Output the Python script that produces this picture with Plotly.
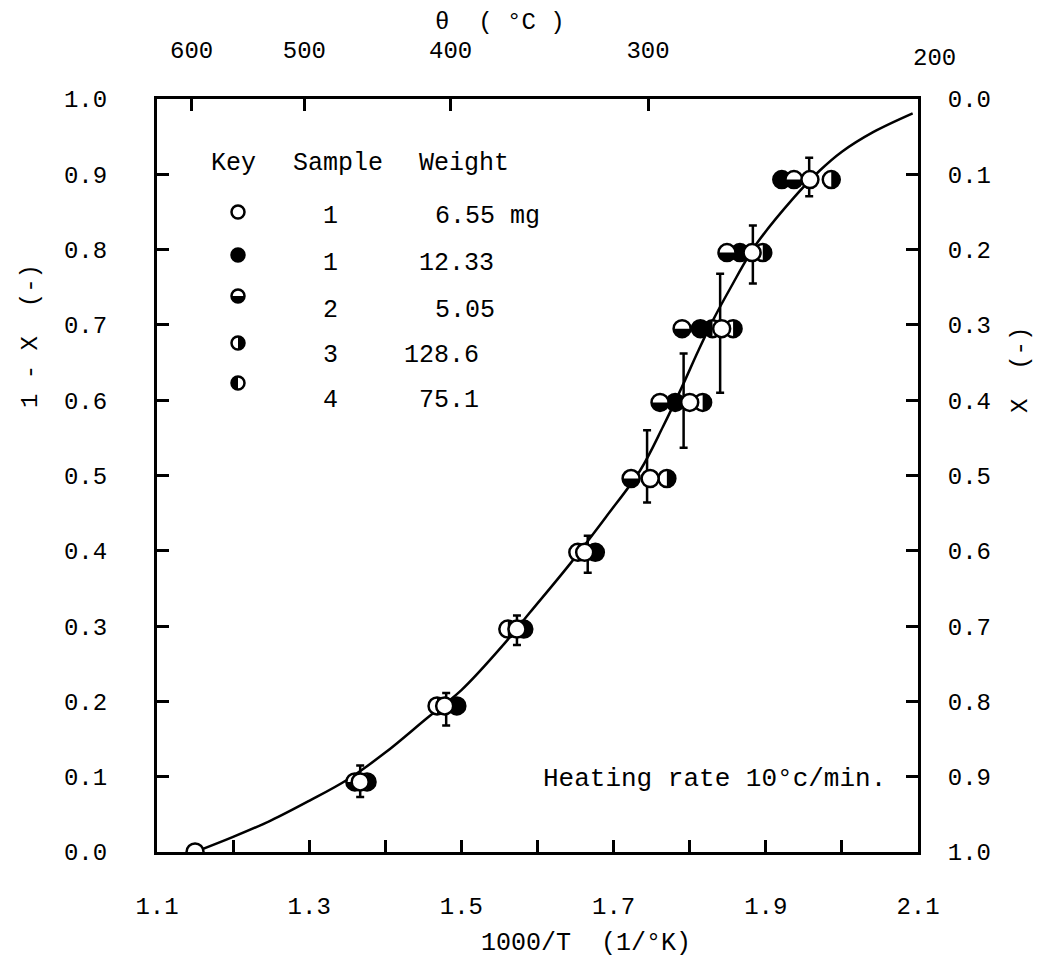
import numpy as np
import plotly.graph_objects as go

# ---------------- data ----------------
levels   = [0.0, 0.093, 0.194, 0.296, 0.398, 0.496, 0.597, 0.695, 0.796, 0.893]
open_x   = [1.150, 1.367, 1.478, 1.573, 1.662, 1.748, 1.800, 1.842, 1.882, 1.958]   # sample 1, 6.55 mg
filled_x = [None, None, 1.494, 1.582, 1.676, None, 1.781, 1.814, 1.866, 1.921]    # sample 1, 12.33 mg
s2_x     = [None, 1.360, None, None, None, 1.723, 1.761, 1.790, 1.849, 1.937]     # sample 2, 5.05 mg
s3_x     = [None, 1.376, 1.468, 1.561, 1.653, 1.770, 1.817, 1.857, 1.896, 1.986]  # sample 3, 128.6 mg
s4_x     = [None, None, None, None, None, None, None, 1.830, None, None]          # sample 4, 75.1 mg

err_x  = [1.367, 1.480, 1.573, 1.666, 1.744, 1.792, 1.840, 1.883, 1.957]
err_y  = [0.093, 0.194, 0.296, 0.398, 0.496, 0.597, 0.695, 0.796, 0.893]
err_hi = [0.115, 0.211, 0.314, 0.420, 0.560, 0.662, 0.768, 0.832, 0.922]
err_lo = [0.073, 0.168, 0.275, 0.371, 0.464, 0.537, 0.610, 0.755, 0.871]

curve_x = [1.150, 1.200, 1.250, 1.300, 1.350, 1.400, 1.455, 1.500, 1.555, 1.590,
           1.643, 1.690, 1.735, 1.765, 1.790, 1.811, 1.830, 1.853, 1.886, 1.936,
           1.971, 2.000, 2.041, 2.093]
curve_y = [0.000, 0.020, 0.042, 0.068, 0.096, 0.132, 0.178, 0.215, 0.275, 0.318,
           0.383, 0.445, 0.507, 0.565, 0.618, 0.665, 0.705, 0.748, 0.805, 0.868,
           0.905, 0.930, 0.956, 0.981]

x_ticks = [1.1, 1.2, 1.3, 1.4, 1.5, 1.6, 1.7, 1.8, 1.9, 2.0, 2.1]
x_tick_text = ["1.1", "", "1.3", "", "1.5", "", "1.7", "", "1.9", "", "2.1"]
y_ticks = [0.0, 0.1, 0.2, 0.3, 0.4, 0.5, 0.6, 0.7, 0.8, 0.9, 1.0]
y_tick_text = ["0.0", "0.1", "0.2", "0.3", "0.4", "0.5", "0.6", "0.7", "0.8", "0.9", "1.0"]
theta_c = [600, 500, 400, 300, 200]

key_samples = ["1", "1", "2", "3", "4"]
key_weights = ["6.55 mg", "12.33", "5.05", "128.6", "75.1"]

# ---------------- layout geometry ----------------
W, H = 1037, 964
L, R, T, B = 157, 918, 99, 852
PW, PH = R - L, B - T
XR = [1.1, 2.1]
YR = [0.0, 1.0]
PXX = PW / (XR[1] - XR[0])
PXY = PH / (YR[1] - YR[0])

FONT = "Liberation Mono, Courier New, monospace"
MS = 17      # data marker size
KS = 13      # key marker size
LW = 2.5


def px2paper_x(px):
    return (px - L) / PW


def px2paper_y(py):
    return (B - py) / PH


def half_polys(xs, ys, size, side):
    """Half-disc polygons (data coords) for half-filled symbols."""
    r = size / 2.0
    if side == "bottom":
        t = np.linspace(np.pi, 2 * np.pi, 25)
    elif side == "right":
        t = np.linspace(-np.pi / 2, np.pi / 2, 25)
    else:  # left
        t = np.linspace(np.pi / 2, 3 * np.pi / 2, 25)
    px, py = [], []
    for cx, cy in zip(xs, ys):
        if cx is None:
            continue
        px += list(cx + r * np.cos(t) / PXX) + [None]
        py += list(cy + r * np.sin(t) / PXY) + [None]
    return px, py


fig = go.Figure()

# fitted curve
fig.add_trace(go.Scatter(x=curve_x, y=curve_y, mode="lines", line=dict(color="black", width=2.5, shape="spline"),
                         showlegend=False, hoverinfo="skip"))

# error bars
fig.add_trace(go.Scatter(
    x=err_x, y=err_y, mode="markers", marker=dict(size=1, color="rgba(0,0,0,0)"),
    error_y=dict(type="data", symmetric=False,
                 array=[h - y for h, y in zip(err_hi, err_y)],
                 arrayminus=[y - l for l, y in zip(err_lo, err_y)],
                 color="black", thickness=2.5, width=4),
    showlegend=False, hoverinfo="skip"))


def add_series(xs, ys, size, kind):
    pts = [(x, y) for x, y in zip(xs, ys) if x is not None]
    if not pts:
        return
    px = [p[0] for p in pts]
    py = [p[1] for p in pts]
    fill = "black" if kind == "filled" else "white"
    fig.add_trace(go.Scatter(x=px, y=py, mode="markers",
                             marker=dict(symbol="circle", size=size, color=fill,
                                         line=dict(color="black", width=LW)),
                             showlegend=False, hoverinfo="skip"))
    if kind in ("bottom", "right", "left"):
        hx, hy = half_polys(px, py, size, kind)
        fig.add_trace(go.Scatter(x=hx, y=hy, mode="lines", fill="toself", fillcolor="black",
                                 line=dict(color="black", width=0.5),
                                 showlegend=False, hoverinfo="skip"))


add_series(filled_x, levels, MS, "filled")
add_series(s2_x, levels, MS, "bottom")
add_series(s4_x, levels, MS, "left")
add_series(s3_x, levels, MS, "right")
add_series(open_x, levels, MS, "open")

# key (legend) symbols, placed inside the plot area
key_px_x = 238
key_px_y = [212, 255, 296, 343, 383]
kx = XR[0] + (key_px_x - L) / PXX
kys = [(B - p) / PXY for p in key_px_y]
kinds = ["open", "filled", "bottom", "right", "left"]
for ky, kd in zip(kys, kinds):
    add_series([kx], [ky], KS, kd)

# invisible traces to bind secondary axes
fig.add_trace(go.Scatter(x=[XR[0]], y=[0.5], xaxis="x2", yaxis="y", mode="markers",
                         marker=dict(size=1, color="rgba(0,0,0,0)"), showlegend=False, hoverinfo="skip"))
fig.add_trace(go.Scatter(x=[XR[0]], y=[0.5], xaxis="x", yaxis="y2", mode="markers",
                         marker=dict(size=1, color="rgba(0,0,0,0)"), showlegend=False, hoverinfo="skip"))

tick_font = dict(family=FONT, size=24, color="black")
axis_common = dict(showgrid=False, zeroline=False, showline=True, linecolor="black", linewidth=3,
                   ticks="inside", ticklen=12, tickwidth=2.5, tickcolor="black", tickfont=tick_font)

theta_vals = [1000.0 / (t + 273.0) for t in theta_c]
top_vals = [v for v in theta_vals if XR[0] <= v <= XR[1]]
top_text = [str(t) for t, v in zip(theta_c, theta_vals) if XR[0] <= v <= XR[1]]

fig.update_layout(
    width=W, height=H, autosize=False,
    margin=dict(l=L, r=W - R, t=T, b=H - B, pad=0),
    paper_bgcolor="white", plot_bgcolor="white",
    showlegend=False,
    xaxis=dict(range=XR, tickmode="array", tickvals=x_ticks, ticktext=x_tick_text,
               ticklabelstandoff=30, **axis_common),
    xaxis2=dict(range=XR, overlaying="x", side="top", tickmode="array", tickvals=top_vals,
                ticktext=top_text, ticklabelstandoff=28, **axis_common),
    yaxis=dict(range=YR, tickmode="array", tickvals=y_ticks, ticktext=y_tick_text,
               ticklabelstandoff=42, **axis_common),
    yaxis2=dict(range=[YR[1], YR[0]], overlaying="y", side="right", tickmode="array",
                tickvals=y_ticks, ticktext=y_tick_text, ticklabelstandoff=22, **axis_common),
)

ann = []
txt = dict(family=FONT, size=24, color="black")
# off-range top tick label (200 degC)
ann.append(dict(text=str(theta_c[-1]), xref="paper", yref="paper",
                x=(theta_vals[-1] - XR[0]) / (XR[1] - XR[0]) + 0.008, y=px2paper_y(58),
                showarrow=False, font=txt, xanchor="center", yanchor="middle"))
# axis titles
ann.append(dict(text="1000/T  (1/°K)", xref="paper", yref="paper", x=px2paper_x(586), y=px2paper_y(944),
                showarrow=False, font=dict(family=FONT, size=25, color="black"), xanchor="center", yanchor="middle"))
ann.append(dict(text="θ  ( °C )", xref="paper", yref="paper", x=px2paper_x(500), y=px2paper_y(22),
                showarrow=False, font=txt, xanchor="center", yanchor="middle"))
ann.append(dict(text="1 - X  (-)", xref="paper", yref="paper", x=px2paper_x(30), y=px2paper_y(336),
                showarrow=False, font=txt, textangle=-90, xanchor="center", yanchor="middle"))
ann.append(dict(text="X  (-)", xref="paper", yref="paper", x=px2paper_x(1020), y=px2paper_y(370),
                showarrow=False, font=txt, textangle=-90, xanchor="center", yanchor="middle"))
# heating rate note
ann.append(dict(text="Heating rate 10°c/min.", xref="paper", yref="paper", x=px2paper_x(888), y=px2paper_y(779),
                showarrow=False, font=dict(family=FONT, size=26, color="black"), xanchor="right", yanchor="middle"))
# key table
kf = dict(family=FONT, size=25, color="black")
headers = ["Key", "Sample", "Weight"]
header_x = [233, 338, 464]
for h, hx in zip(headers, header_x):
    ann.append(dict(text=h, xref="paper", yref="paper", x=px2paper_x(hx), y=px2paper_y(163),
                    showarrow=False, font=kf, xanchor="center", yanchor="middle"))
row_y = [216, 263, 310, 355, 400]
weight_left = [433, 417, 433, 402, 417]
for s, w, ry, wl in zip(key_samples, key_weights, row_y, weight_left):
    ann.append(dict(text=s, xref="paper", yref="paper", x=px2paper_x(330), y=px2paper_y(ry),
                    showarrow=False, font=kf, xanchor="center", yanchor="middle"))
    ann.append(dict(text=w, xref="paper", yref="paper", x=px2paper_x(wl), y=px2paper_y(ry),
                    showarrow=False, font=kf, xanchor="left", yanchor="middle"))

fig.update_layout(annotations=ann)
fig.write_html("out.html")
